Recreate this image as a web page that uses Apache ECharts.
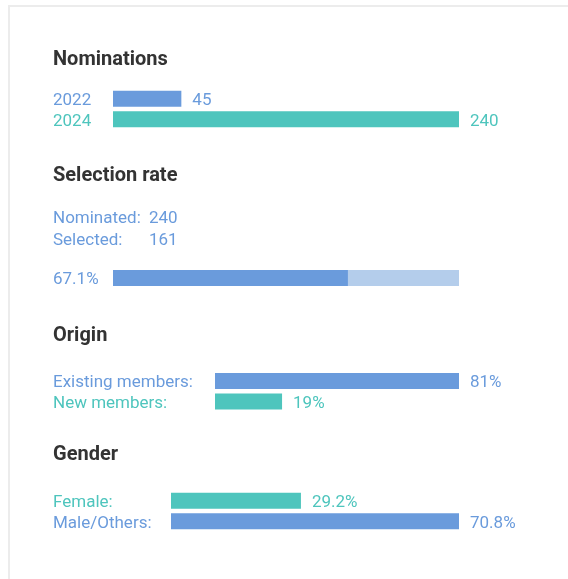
<!DOCTYPE html>
<html>
<head>
<meta charset="utf-8">
<script src="https://cdn.jsdelivr.net/npm/echarts@6/dist/echarts.min.js"></script>
<style>
  html, body { margin: 0; padding: 0; background: #fff; }
  #card { position: absolute; left: 8px; top: 5px; width: 640px; height: 660px; border: 2px solid #ececec; box-sizing: border-box; }
  #main { position: absolute; left: 0; top: 0; width: 568px; height: 579px; }
</style>
</head>
<body>
<div id="card"></div>
<div id="main"></div>
<script>
// colours
const BLUE = '#6a9bdc'
const TEAL = '#4ec5bd'
const LIGHT = '#b4cdeb'
const TITLE = '#333333'
const FONT = 'Roboto'
const TEXT_SIZE = 17

// Nominations
const nomYears = ['2022', '2024']
const nomCounts = [45, 240]
const nomColors = [BLUE, TEAL]

// Selection rate
const nominated = 240
const selected = 161

// Origin
const originCats = ['Existing members:', 'New members:']
const originPct = [81, 19]
const originColors = [BLUE, TEAL]

// Gender
const genderCats = ['Female:', 'Male/Others:']
const genderPct = [29.2, 70.8]
const genderColors = [TEAL, BLUE]

const rateText = (selected / nominated * 100).toFixed(1) + '%'
const LABEL_X = 53

let grids = [
  {left: 113, top: 88.5, width: 346, height: 41},
  {left: 113, top: 270, width: 346, height: 16},
  {left: 215, top: 370.7, width: 244, height: 41},
  {left: 171, top: 490.5, width: 288, height: 41}
]

let xAxes = []
let yAxes = []
let series = []

function catAxis(i, cats, colors) {
  return {
    type: 'category', gridIndex: i, data: cats, inverse: true,
    axisLine: {show: false}, axisTick: {show: false}, splitLine: {show: false},
    axisLabel: {
      interval: 0, align: 'left', margin: grids[i].left - LABEL_X,
      fontSize: TEXT_SIZE, fontFamily: FONT,
      // nudge the text ~2px below the band centre, like the original
      verticalAlign: 'top', lineHeight: 4,
      color: function (v, j) { return colors[j] }
    }
  }
}

function valAxis(i, min, max) {
  return {type: 'value', gridIndex: i, min: min, max: max, startValue: min, show: false}
}

/**
 * one block of horizontal bars
 */
function addBlock(i, cats, values, colors, min, max, fmt) {
  xAxes.push(valAxis(i, min, max))
  yAxes.push(catAxis(i, cats, colors))
  series.push({
    type: 'bar', xAxisIndex: i, yAxisIndex: i, barWidth: 16, silent: true,
    data: values.map(function (v, j) {
      return {value: v, itemStyle: {color: colors[j]}, label: {color: colors[j]}}
    }),
    label: {
      show: true, position: 'right', distance: 11, offset: [0, 2],
      fontSize: TEXT_SIZE, fontFamily: FONT,
      formatter: function (p) { return fmt(p.value) }
    }
  })
}

addBlock(0, nomYears, nomCounts, nomColors, -3, 240, function (v) { return v })

// selection rate: full bar behind, selected part on top
xAxes.push(valAxis(1, -6, nominated))
yAxes.push(catAxis(1, [rateText], [BLUE]))
series.push({
  type: 'bar', xAxisIndex: 1, yAxisIndex: 1, barWidth: 16, barGap: '-100%', silent: true,
  itemStyle: {color: LIGHT}, data: [nominated]
})
series.push({
  type: 'bar', xAxisIndex: 1, yAxisIndex: 1, barWidth: 16, barGap: '-100%', silent: true,
  itemStyle: {color: BLUE}, data: [selected]
})

addBlock(2, originCats, originPct, originColors, -4.5, 81, function (v) { return v + '%' })
addBlock(3, genderCats, genderPct, genderColors, -5, 70.8, function (v) { return v.toFixed(1) + '%' })

function title(text, y) {
  return {
    type: 'text', x: LABEL_X, y: y, silent: true,
    style: {text: text, fill: TITLE, fontSize: 20, fontWeight: 'bold', fontFamily: FONT, verticalAlign: 'middle'}
  }
}

function info(text, x, y) {
  return {
    type: 'text', x: x, y: y, silent: true,
    style: {text: text, fill: BLUE, fontSize: TEXT_SIZE, fontFamily: FONT, verticalAlign: 'middle'}
  }
}

let graphics = [
  title('Nominations', 60),
  title('Selection rate', 176),
  title('Origin', 335.5),
  title('Gender', 455),
  info('Nominated:', LABEL_X, 218.5),
  info(String(nominated), 149, 218.5),
  info('Selected:', LABEL_X, 240.5),
  info(String(selected), 149, 240.5)
]

let myChart = echarts.init(document.getElementById('main'), null, {renderer: 'canvas'})
myChart.setOption({
  animation: false,
  grid: grids,
  xAxis: xAxes,
  yAxis: yAxes,
  series: series,
  graphic: graphics
})
</script>
</body>
</html>
